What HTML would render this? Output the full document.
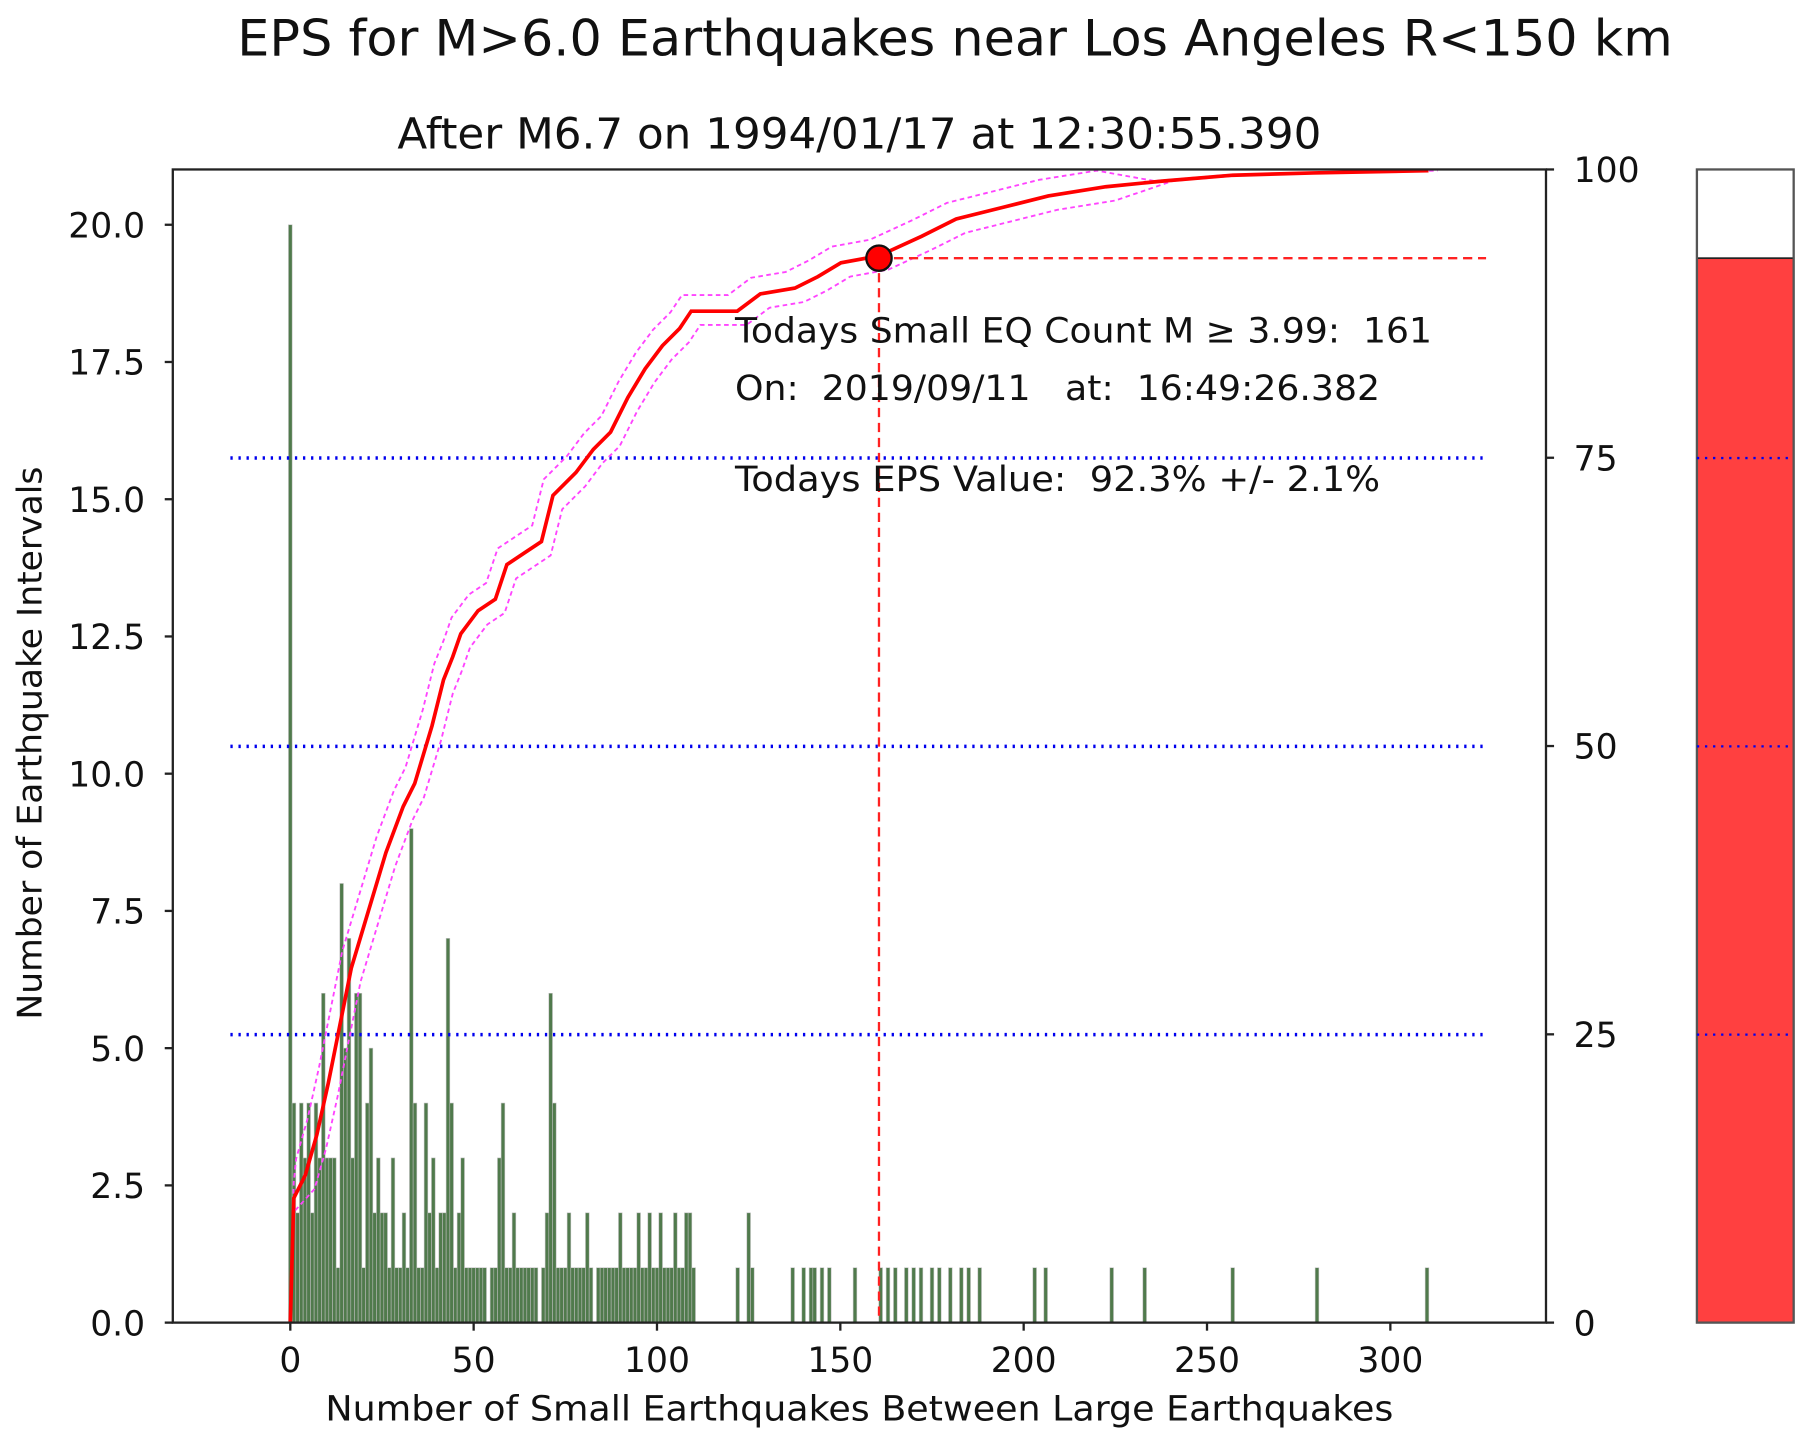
<!DOCTYPE html>
<html><head><meta charset="utf-8"><style>
html,body{margin:0;padding:0;background:#fff;}
svg{display:block;}
text{font-family:"DejaVu Sans","Liberation Sans",sans-serif;fill:#111;}
</style></head><body>
<svg id="s" width="1806" height="1446" viewBox="0 0 1567.7 1255" xmlns="http://www.w3.org/2000/svg">
<text x="829" y="48" font-size="43" text-anchor="middle" textLength="1246" lengthAdjust="spacingAndGlyphs">EPS for M&gt;6.0 Earthquakes near Los Angeles R&lt;150 km</text>
<text x="746" y="129" font-size="37" text-anchor="middle" textLength="802" lengthAdjust="spacingAndGlyphs">After M6.7 on 1994/01/17 at 12:30:55.390</text>
<g id="bars"></g>
<g stroke="#0000ee" stroke-width="3" stroke-dasharray="2,5">
<line x1="200" y1="397.5" x2="1288" y2="397.5"/>
<line x1="200" y1="647.8" x2="1288" y2="647.8"/>
<line x1="200" y1="898" x2="1288" y2="898"/>
</g>
<polyline id="up" fill="none" stroke="#ff44ff" stroke-width="1.6" stroke-dasharray="4,3"/>
<polyline id="lo" fill="none" stroke="#ff44ff" stroke-width="1.6" stroke-dasharray="4,3"/>
<polyline id="cv" fill="none" stroke="#ff0000" stroke-width="3.2"/>
<line x1="763" y1="224" x2="1290" y2="224" stroke="#ff2222" stroke-width="2" stroke-dasharray="8,5"/>
<line x1="763" y1="224" x2="763" y2="1148" stroke="#ff2222" stroke-width="2" stroke-dasharray="8,5"/>
<circle cx="763" cy="224" r="11" fill="#ff0000" stroke="#111" stroke-width="2"/>
<text x="638" y="297" font-size="30" xml:space="preserve" textLength="605" lengthAdjust="spacingAndGlyphs">Todays Small EQ Count M ≥ 3.99:  161</text>
<text x="638" y="347" font-size="30" xml:space="preserve" textLength="560" lengthAdjust="spacingAndGlyphs">On:  2019/09/11   at:  16:49:26.382</text>
<text x="638" y="426" font-size="30" xml:space="preserve" textLength="560" lengthAdjust="spacingAndGlyphs">Todays EPS Value:  92.3% +/- 2.1%</text>
<rect x="150" y="147" width="1192" height="1001" fill="none" stroke="#222" stroke-width="2"/>
<g id="ticks" stroke="#222" stroke-width="2"></g>
<g id="tl" font-size="30"></g>
<text x="746" y="1233" font-size="30" text-anchor="middle" textLength="927" lengthAdjust="spacingAndGlyphs">Number of Small Earthquakes Between Large Earthquakes</text>
<text transform="translate(36,645) rotate(-90)" font-size="29" text-anchor="middle" textLength="480" lengthAdjust="spacingAndGlyphs">Number of Earthquake Intervals</text>
<rect x="1473" y="224" width="84" height="924" fill="#ff4040" stroke="#222" stroke-width="1.5"/>
<rect x="1473" y="147" width="84" height="1001" fill="none" stroke="#555" stroke-width="2"/>
<g stroke="#0000ee" stroke-width="2" stroke-dasharray="2,5">
<line x1="1473" y1="397.5" x2="1557" y2="397.5"/>
<line x1="1473" y1="647.8" x2="1557" y2="647.8"/>
<line x1="1473" y1="898" x2="1557" y2="898"/>
</g>
</svg>
<script>
var NS="http://www.w3.org/2000/svg";
function X(v){return 252+v*3.183;}
function YN(n){return 1148-n*47.65;}
var h={0:20,1:4,2:2,3:4,4:3,5:4,6:2,7:4,8:3,9:6,10:3,11:3,12:3,13:1,14:8,15:5,16:7,17:3,18:6,19:6,20:1,21:4,22:5,23:2,24:3,25:2,26:2,27:1,28:3,29:1,30:1,31:2,32:1,33:9,34:4,35:1,36:1,37:4,38:2,39:3,40:1,41:2,42:2,43:7,44:4,45:1,46:2,47:3,48:1,49:1,50:1,51:1,52:1,53:1,55:1,56:1,57:3,58:4,59:1,60:1,61:2,62:1,63:1,64:1,65:1,66:1,67:1,69:1,70:2,71:6,72:4,73:1,74:1,75:1,76:2,77:1,78:1,79:1,80:1,81:2,82:1,84:1,85:1,86:1,87:1,88:1,89:1,90:2,91:1,92:1,93:1,94:1,95:2,96:1,97:1,98:2,99:1,100:1,101:2,102:1,103:1,104:1,105:2,106:1,107:1,108:2,109:2,110:1,122:1,125:2,126:1,137:1,140:1,142:1,143:1,145:1,147:1,154:1,161:1,163:1,165:1,168:1,170:1,172:1,175:1,177:1,180:1,183:1,185:1,188:1,203:1,206:1,224:1,233:1,257:1,280:1,310:1};
var g=document.getElementById('bars');
for(var k in h){var r=document.createElementNS(NS,'rect');var v=+k;
r.setAttribute('x',X(v)-1.6);r.setAttribute('width',3.2);r.setAttribute('y',YN(h[k]));r.setAttribute('height',h[k]*47.65);
r.setAttribute('fill','#3d6b38');r.setAttribute('fill-opacity','0.9');r.setAttribute('stroke','#c0c0c0');r.setAttribute('stroke-width','0.5');g.appendChild(r);}
var P=[[252,1148],[255,1040],[265,1020],[275,985],[285,940],[295,890],[305,840],[320,790],[335,740],[350,700],[360,680],[375,630],[385,590],[393,570],[400,550],[415,530],[430,520],[440,490],[455,480],[470,470],[480,430],[490,420],[500,410],[515,390],[530,375],[545,345],[560,320],[575,300],[590,285],[600,270],[640,270],[660,255],[690,250],[710,240],[730,228],[763,222],[800,205],[830,190],[870,180],[910,170],[960,162],[1010,157],[1070,152],[1140,150],[1240,148]];
function pts(dx,dy){return P.map(function(p,i){var a=i<2?0:dx,b=(i==0||p[1]<160)?0:dy;return (p[0]+a)+','+Math.min(1148,Math.max(147,p[1]+b));}).join(' ');}
document.getElementById('cv').setAttribute('points',pts(0,0));
document.getElementById('up').setAttribute('points',pts(-8,-14));
document.getElementById('lo').setAttribute('points',pts(8,12));
var t=document.getElementById('ticks'),tl=document.getElementById('tl');
function line(a,b,c,d){var l=document.createElementNS(NS,'line');l.setAttribute('x1',a);l.setAttribute('y1',b);l.setAttribute('x2',c);l.setAttribute('y2',d);t.appendChild(l);}
function txt(x,y,s,anc){var e=document.createElementNS(NS,'text');e.setAttribute('x',x);e.setAttribute('y',y);e.setAttribute('text-anchor',anc);e.textContent=s;tl.appendChild(e);}
for(var i=0;i<=8;i++){var n=i*2.5,y=YN(n);line(143,y,150,y);txt(126,y+11,n.toFixed(1),'end');}
for(var v=0;v<=300;v+=50){var x=X(v);line(x,1148,x,1155);txt(x,1191,String(v),'middle');}
for(var p=0;p<=100;p+=25){var y=1148-p*10.01;line(1342,y,1349,y);txt(1366,y+11,String(p),'start');}
</script>
</body></html>
